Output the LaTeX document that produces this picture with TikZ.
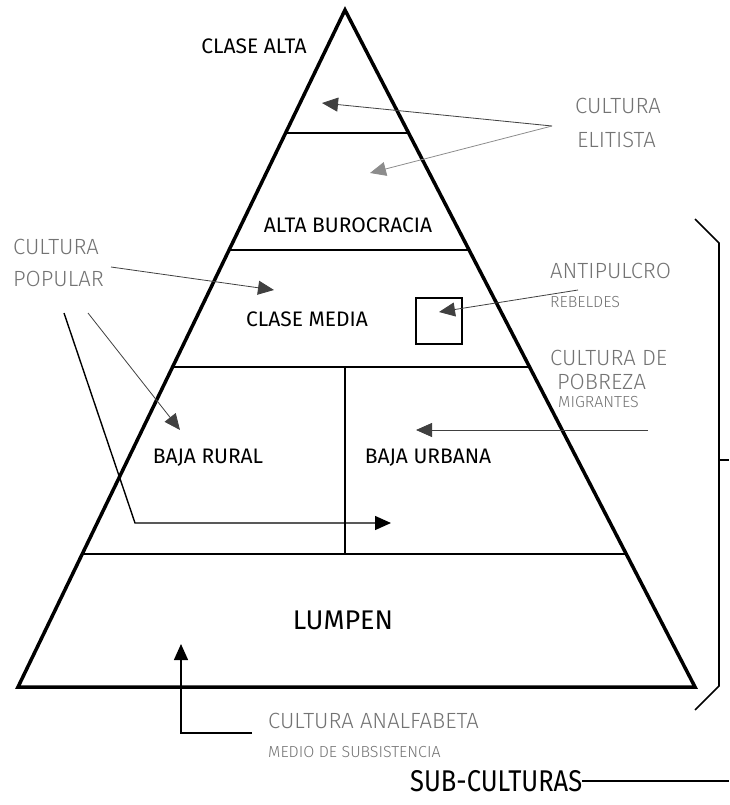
\documentclass[tikz,border=0pt]{standalone}
\usepackage{fontspec}
\setmainfont{Fira Sans}
\newfontfamily\lightfont{Fira Sans Light}
\newfontfamily\narrowfont{Fira Sans}[FakeStretch=0.85]
\usetikzlibrary{calc,arrows.meta,positioning}
\tikzstyle{every node}+=[inner sep=0pt,font=\fontsize{21}{21}\selectfont]
\tikzstyle{side}=[line width=3.5pt,line join=miter]
\tikzstyle{tier}=[line width=2pt]
\tikzstyle{pointer}=[black!75,line width=0.8pt,-{Triangle[length=16pt,width=14pt]}]
\tikzstyle{grey label}=[text=black!55,anchor=west,font=\lightfont\fontsize{22}{22}\selectfont]
\tikzstyle{small grey}=[grey label,font=\lightfont\fontsize{16}{16}\selectfont]
\newcommand{\drawtiers}[2][\empty]{
	\foreach \a/\b in {#2}{
		\draw[#1] (\a) -- (\b);
	}
}

\begin{document}
\begin{tikzpicture}[x=1pt,y=-1pt]
\useasboundingbox (0,0) rectangle (729,805);
% pyramid
\coordinate (apex) at (345,10);
\coordinate (bl) at (18,687);
\coordinate (br) at (695,687);
\draw[side] (apex) -- (br) -- (bl) -- cycle;
\foreach \t/\n in {0.182/a,0.354/b,0.528/c,0.803/d}{
	\coordinate (l\n) at ($(apex)!\t!(bl)$);
	\coordinate (r\n) at ($(apex)!\t!(br)$);
}
\drawtiers[tier]{la/ra,lb/rb,lc/rc,ld/rd}
\draw[tier] (apex |- lc) -- (apex |- ld);
\node[draw,line width=2pt,minimum size=46pt] (rebelbox) at (438.5,320.5) {};

% class names
\node (alta) at (254,46) {CLASE ALTA};
\node (buro) at (348,225) {ALTA BUROCRACIA};
\node (media) at (307,319) {CLASE MEDIA};
\node (rural) at (208,458) {BAJA RURAL};
\node (urbana) at (428,458) {BAJA URBANA};
\node[font=\fontsize{27}{27}\selectfont] (lumpen) at (343,620) {LUMPEN};

% sub-cultures
\node[grey label] (elit1) at (575,106) {CULTURA};
\node[grey label] (elit2) at (577,140) {ELITISTA};
\node[grey label] (pop1) at (13,247) {CULTURA};
\node[grey label] (pop2) at (13,279) {POPULAR};
\node[grey label] (anti) at (550,271) {ANTIPULCRO};
\node[small grey] (rebel) at (550,302) {REBELDES};
\node[grey label] (pobre1) at (550,358) {CULTURA DE};
\node[grey label] (pobre2) at (557,382) {POBREZA};
\node[small grey] (migra) at (558,402) {MIGRANTES};
\node[grey label] (analf) at (268,721) {CULTURA ANALFABETA};
\node[small grey] (medio) at (268,752) {MEDIO DE SUBSISTENCIA};

% arrows
\coordinate (elitfrom) at (552,126);
\coordinate (elittip1) at (322,103);
\coordinate (elittip2) at (370,173);
\coordinate (popfrom1) at (111,267);
\coordinate (poptip1) at (274,290);
\coordinate (popfrom2) at (88,313);
\coordinate (poptip2) at (180,430);
\coordinate (popfrom3) at (64,313);
\coordinate (popbend) at (135,523);
\coordinate (poptip3) at (391,523);
\coordinate (antifrom) at (578,290);
\coordinate (antitip) at (439,312);
\coordinate (pobrefrom) at (648,430);
\coordinate (pobretip) at (416,430);
\coordinate (analffrom) at (252,733);
\coordinate (analfbend) at (181,733);
\coordinate (analftip) at (181,644);
\drawtiers[pointer]{elitfrom/elittip1,popfrom1/poptip1,popfrom2/poptip2,antifrom/antitip,pobrefrom/pobretip}
\draw[pointer,black!45] (elitfrom) -- (elittip2);
\draw[pointer,line width=1.4pt,black] (popfrom3) -- (popbend) -- (poptip3);
\draw[pointer,line width=1.4pt,black] (analffrom) -- (analfbend) -- (analftip);

% bracket
\coordinate (brtop) at (695,219);
\coordinate (brup) at (719,243);
\coordinate (brlow) at (719,686);
\coordinate (brbot) at (695,710);
\coordinate (brmid) at (719,460);
\coordinate (brtick) at (729,460);
\draw[line width=1.6pt] (brtop) -- (brup) -- (brlow) -- (brbot);
\draw[line width=1.6pt] (brmid) -- (brtick);
\node[font=\narrowfont\fontsize{30}{30}\selectfont,anchor=west] (subc) at (410,781) {SUB-CULTURAS};
\coordinate (subend) at (729,781);
\draw[line width=1.4pt] (subc.east) -- (subend);
\end{tikzpicture}
\end{document}
